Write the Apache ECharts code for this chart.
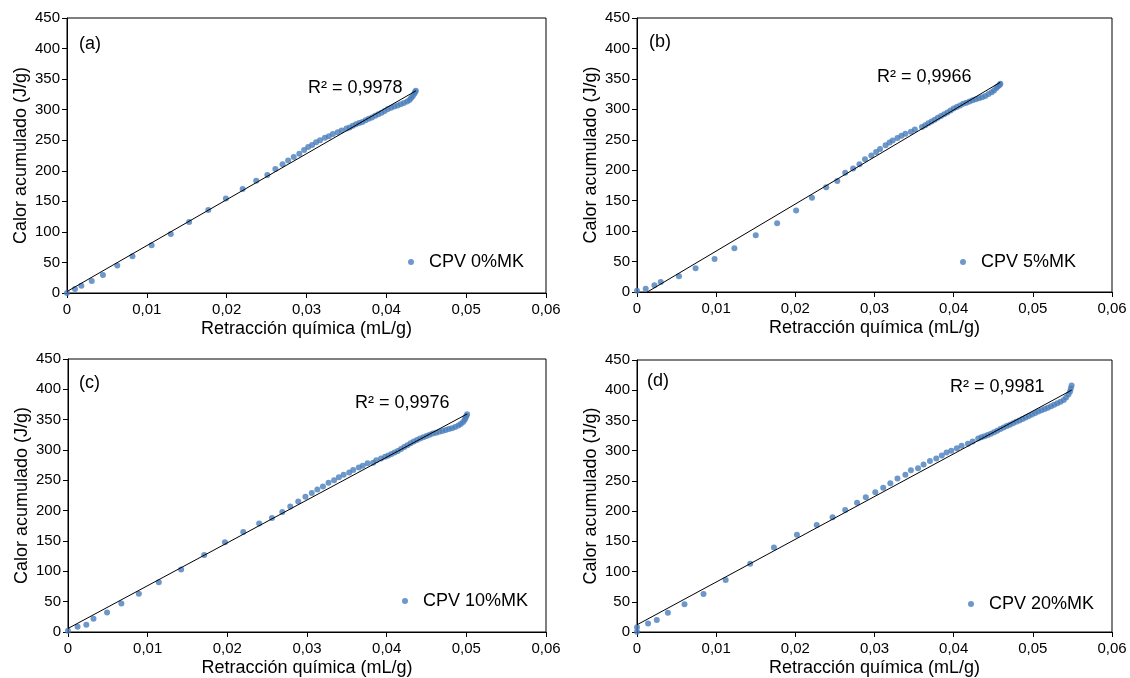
<!DOCTYPE html>
<html><head><meta charset="utf-8">
<script src="https://cdn.jsdelivr.net/npm/echarts@6/dist/echarts.min.js"></script>
<style>html,body{margin:0;padding:0;background:#fff}#c{width:1130px;height:678px}</style>
</head><body><div id="c"></div>
<script>
// ---- Data ----
const seriesNames = ['CPV 0%MK', 'CPV 5%MK', 'CPV 10%MK', 'CPV 20%MK'];
const panelLabels = ['(a)', '(b)', '(c)', '(d)'];
const r2Labels = ['R² = 0,9978', 'R² = 0,9966', 'R² = 0,9976', 'R² = 0,9981'];
const xTicks = [0, 0.01, 0.02, 0.03, 0.04, 0.05, 0.06];
const yTicks = [0, 50, 100, 150, 200, 250, 300, 350, 400, 450];

const xA = [0,0.0010,0.0018,0.0031,0.0045,0.0063,0.0082,0.0106,0.0130,0.0153,0.0177,0.0199,0.0220,0.0237,0.0251,0.0261,0.0270,0.0277,0.0284,0.0291,0.0297,0.0302,0.0307,0.0312,0.0317,0.0323,0.0328,0.0333,0.0339,0.0344,
  0.0350,0.0354,0.0358,0.0362,0.0366,0.0370,0.0374,0.0378,0.0382,0.0386,0.0390,0.0394,0.0398,0.0402,0.0406,0.0410,0.0414,0.0418,0.0422,0.0426,0.0429,0.0431,0.0433,0.0435,0.0436,0.0437];
const yA = [0,6.6,12,19.7,29.6,45,60,78,96.5,116,136,154.6,170,183.6,193,203,210.5,217,222.5,228,234,239,242,246.6,250,254,256.5,260,263,266,
  269,271,273.5,276,278,280,282.5,285,287,290,292.5,295,298,301,303,305,307,309,311,313.5,316,319,322,326,329,331];

const xB = [0,0.0011,0.0022,0.0030,0.0053,0.0074,0.0098,0.0123,0.0150,0.0177,0.0201,0.0221,0.0239,0.0253,0.0263,0.0273,0.0281,0.0288,0.0296,0.0302,0.0307,0.0314,0.0319,0.0323,0.0329,0.0334,0.0339,0.0346,0.0351,
  0.0360,0.0364,0.0368,0.0372,0.0376,0.0380,0.0384,0.0388,0.0392,0.0396,0.0400,0.0404,0.0408,0.0412,0.0416,0.0420,0.0424,0.0428,0.0432,0.0436,0.0440,0.0444,0.0448,0.0451,0.0454,0.0456,0.0458,0.0459];
const yB = [2,5.5,11,16.4,26,39,54,72,93,113,134,154.6,172,182.5,195.7,203,210,218,224,230,235,241,245.6,249,253,256.5,260,263,267,
  271,274,277,280,283,286,289,292,295,298,301.5,304,306.5,309,311,313,315,316.5,318,320,322,325,328,331,335,338,340,342];

const xC = [0,0.0012,0.0023,0.0032,0.0049,0.0067,0.0089,0.0114,0.0142,0.0171,0.0197,0.0220,0.0240,0.0256,0.0269,0.0279,0.0289,0.0298,0.0306,0.0313,0.0320,0.0327,0.0334,0.0340,0.0346,0.0353,0.0358,0.0365,0.0370,0.0376,0.0383,0.0387,0.0393,0.0398,
  0.0402,0.0406,0.0410,0.0414,0.0418,0.0422,0.0426,0.0430,0.0434,0.0438,0.0442,0.0446,0.0450,0.0454,0.0458,0.0462,0.0466,0.0470,0.0474,0.0478,0.0482,0.0486,0.0490,0.0493,0.0496,0.0498,0.0499,0.0500,0.0501];
const yC = [2,8.8,12,22,32,47,63,82,103,127,148,165,179,188,198,207,215,223,229,235,240,246,250,255,259,263,267,271,274,278,279,283,286,289,
  291,293.5,296,298.5,301.5,305,308,311,314,316.5,319,321,323,325,327,328.5,330,331.5,333,334.5,336,338,340.5,343,346,350,353,356,359];

const xD = [0,0,0.0014,0.0025,0.0039,0.0060,0.0084,0.0112,0.0143,0.0173,0.0202,0.0227,0.0247,0.0263,0.0278,0.0289,0.0301,0.0311,0.0320,0.0329,0.0339,0.0346,0.0355,0.0362,0.0370,0.0378,0.0385,0.0391,0.0397,0.0404,0.0410,0.0418,0.0424,0.0431,
  0.0435,0.0439,0.0443,0.0447,0.0451,0.0455,0.0459,0.0463,0.0467,0.0471,0.0475,0.0479,0.0483,0.0487,0.0491,0.0495,0.0499,0.0503,0.0507,0.0511,0.0515,0.0519,0.0523,0.0527,0.0531,0.0535,0.0539,0.0542,0.0545,0.0547,0.0548,0.0549];
const yD = [0.5,8,14,20,32,46,63,86,113,140,161,177,190,202,214,223,231,238.5,246,254,260,267.5,271,277,283,287,292,297,300,304,308,311.5,315,320,
  322,324,326,328,330.5,333,336,338.5,341,343,345.5,348,350,352.5,355,357.5,360,362.5,365,367,369,371,373.5,376,378.5,381,384,388,393,398,403,408];

const xs = [xA, xB, xC, xD];
const ys = [yA, yB, yC, yD];

// ---- Layout ----
const grids = [
  {left: 67, top: 18, width: 479, height: 275},
  {left: 637, top: 18, width: 475, height: 274},
  {left: 68, top: 359, width: 478, height: 273},
  {left: 637, top: 360, width: 475, height: 273}
];
const r2Pos = [[308, 79], [877, 68], [355, 394], [950, 378]];
const labelPos = [[79, 35], [649, 33], [79, 374], [647, 372]];
const legendPos = [[408, 253], [960, 253], [402, 592], [968, 595]];

function fit(x, y) {
  const n = x.length;
  let sx = 0, sy = 0, sxx = 0, sxy = 0;
  for (let i = 0; i < n; i++) { sx += x[i]; sy += y[i]; sxx += x[i]*x[i]; sxy += x[i]*y[i]; }
  const b = (n*sxy - sx*sy) / (n*sxx - sx*sx);
  const a = (sy - b*sx) / n;
  const x0 = Math.min(...x), x1 = Math.max(...x);
  return [[x0, a + b*x0], [x1, a + b*x1]];
}

const txt = '#000';
const font = 'Liberation Sans, Arial, sans-serif';
const option = {
  animation: false,
  textStyle: {fontFamily: font},
  grid: grids.map(g => Object.assign({show: true, borderColor: '#000', borderWidth: 1, containLabel: false}, g)),
  xAxis: grids.map((g, i) => ({
    type: 'value', gridIndex: i, min: xTicks[0], max: xTicks[xTicks.length-1], interval: 0.01,
    name: 'Retracción química (mL/g)', nameLocation: 'middle', nameGap: 27,
    nameTextStyle: {fontSize: 18, color: txt, fontFamily: font},
    axisLine: {show: true, lineStyle: {color: '#000', width: 1}},
    axisTick: {show: true, inside: false, length: 5, lineStyle: {color: '#000'}},
    axisLabel: {fontSize: 15, color: txt, margin: 9, fontFamily: font,
      formatter: v => v === 0 ? '0' : v.toFixed(2).replace('.', ',')},
    splitLine: {show: false}
  })),
  yAxis: grids.map((g, i) => ({
    type: 'value', gridIndex: i, min: yTicks[0], max: yTicks[yTicks.length-1], interval: 50,
    name: 'Calor acumulado (J/g)', nameLocation: 'middle', nameGap: 37,
    nameTextStyle: {fontSize: 18, color: txt, fontFamily: font},
    axisLine: {show: true, lineStyle: {color: '#000', width: 1}},
    axisTick: {show: true, inside: false, length: 5, lineStyle: {color: '#000'}},
    axisLabel: {fontSize: 15, color: txt, margin: 7, fontFamily: font},
    splitLine: {show: false}
  })),
  title: [
    ...r2Labels.map((t, i) => ({text: t, left: r2Pos[i][0], top: r2Pos[i][1], padding: 0,
      textStyle: {fontSize: 18, fontWeight: 'normal', color: txt, fontFamily: font}})),
    ...panelLabels.map((t, i) => ({text: t, left: labelPos[i][0], top: labelPos[i][1], padding: 0,
      textStyle: {fontSize: 18, fontWeight: 'normal', color: txt, fontFamily: font}}))
  ],
  legend: seriesNames.map((n, i) => ({
    data: [n], left: legendPos[i][0], top: legendPos[i][1], padding: 0,
    icon: 'circle', itemWidth: 6, itemHeight: 6, itemGap: 5,
    textStyle: {fontSize: 18, color: txt, fontFamily: font, padding: [0, 0, 0, 10]},
    selectedMode: false
  })),
  series: [
    ...seriesNames.map((n, i) => ({
      name: n, type: 'scatter', xAxisIndex: i, yAxisIndex: i, symbolSize: 6,
      itemStyle: {color: '#4a7ebb'}, z: 3,
      data: xs[i].map((x, k) => [x, ys[i][k]])
    })),
    ...seriesNames.map((n, i) => ({
      name: 'trend' + i, type: 'line', xAxisIndex: i, yAxisIndex: i, symbol: 'none', clip: true,
      lineStyle: {color: '#000', width: 1}, z: 4, silent: true,
      data: fit(xs[i], ys[i])
    }))
  ]
};
echarts.init(document.getElementById('c'), null, {renderer: 'canvas'}).setOption(option);
</script></body></html>
